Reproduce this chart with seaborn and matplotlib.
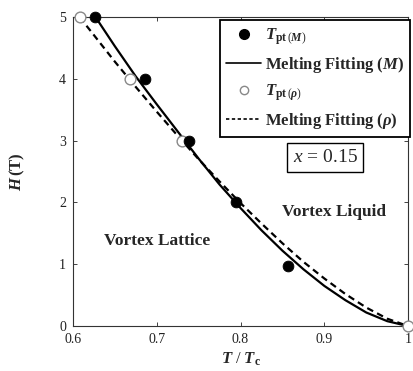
import matplotlib
matplotlib.use("Agg")
import matplotlib.pyplot as plt
import seaborn as sns
import pandas as pd
from matplotlib.lines import Line2D

# Data
t_M = [0.627, 0.686, 0.738, 0.795, 0.857]
h_M = [5.0, 4.0, 3.0, 2.0, 0.98]
t_rho = [0.608, 0.668, 0.730, 1.0]
h_rho = [5.0, 4.0, 3.0, 0.0]
fit_M_t = [0.627, 0.65, 0.675, 0.70, 0.725, 0.75, 0.775, 0.80, 0.825, 0.85, 0.875, 0.90, 0.925, 0.95, 0.975, 1.0]
fit_M_h = [5.0, 4.53, 4.04, 3.59, 3.15, 2.71, 2.29, 1.91, 1.55, 1.22, 0.92, 0.65, 0.42, 0.22, 0.08, 0.0]
fit_rho_t = [0.608, 0.625, 0.65, 0.675, 0.70, 0.725, 0.75, 0.775, 0.80, 0.825, 0.85, 0.875, 0.90, 0.925, 0.95, 0.975, 1.0]
fit_rho_h = [5.0, 4.71, 4.28, 3.87, 3.47, 3.08, 2.70, 2.34, 1.99, 1.66, 1.34, 1.04, 0.77, 0.52, 0.30, 0.12, 0.0]
x_ticks = [0.6, 0.7, 0.8, 0.9, 1.0]
x_tick_labels = ["0.6", "0.7", "0.8", "0.9", "1"]
y_ticks = [0, 1, 2, 3, 4, 5]

sns.set_style("ticks")
plt.rcParams["font.family"] = ["Liberation Serif", "DejaVu Serif"]
plt.rcParams["mathtext.fontset"] = "custom"
plt.rcParams["mathtext.rm"] = "Liberation Serif"
plt.rcParams["mathtext.it"] = "Liberation Serif:italic"
plt.rcParams["mathtext.bf"] = "Liberation Serif:bold"
plt.rcParams["mathtext.bfit"] = "Liberation Serif:bold:italic"

fig = plt.figure(figsize=(4.14, 3.71), dpi=100)
ax = fig.add_axes([0.176, 0.121, 0.810, 0.833])

dfM = pd.DataFrame({"t": fit_M_t, "h": fit_M_h})
dfR = pd.DataFrame({"t": fit_rho_t, "h": fit_rho_h})
sns.lineplot(data=dfM, x="t", y="h", ax=ax, color="black", lw=1.6, sort=False)
sns.lineplot(data=dfR, x="t", y="h", ax=ax, color="black", lw=1.6, sort=False,
             linestyle=(0, (3, 2)))
sns.scatterplot(x=t_rho, y=h_rho, ax=ax, s=60, facecolor="white",
                edgecolor="#888888", linewidth=1.0, clip_on=False, zorder=5)
sns.scatterplot(x=t_M, y=h_M, ax=ax, s=60, color="black", edgecolor="black",
                clip_on=False, zorder=6)

ax.set_xlim(0.6, 1.0)
ax.set_ylim(0, 5)
ax.set_xticks(x_ticks)
ax.set_xticklabels(x_tick_labels)
ax.set_yticks(y_ticks)
ax.tick_params(direction="in", length=3, width=0.6, labelsize=10,
               top=True, right=True, colors="#222222", pad=5)
for s in ax.spines.values():
    s.set_linewidth(0.8)
    s.set_color("#333333")

ax.set_xlabel(r"$\mathbfit{T}\ /\ \mathbfit{T}_{\mathbf{c}}$", fontsize=12, labelpad=3)
ax.set_ylabel(r"$\mathbfit{H}\,\mathbf{(T)}$", fontsize=12, labelpad=23)

ax.text(0.700, 1.38, "Vortex Lattice", fontsize=12.5, fontweight="bold",
        ha="center", va="center")
ax.text(0.912, 1.84, "Vortex Liquid", fontsize=12.5, fontweight="bold",
        ha="center", va="center")
ax.text(0.901, 2.73, r"$x$ = 0.15", fontsize=14, ha="center", va="center",
        bbox=dict(boxstyle="square,pad=0.3", facecolor="white",
                  edgecolor="black", linewidth=1.0))

handles = [
    Line2D([], [], marker="o", color="black", ls="none", markersize=7),
    Line2D([], [], color="black", lw=1.2),
    Line2D([], [], marker="o", markerfacecolor="white", markeredgecolor="#888888",
           ls="none", markersize=6),
    Line2D([], [], color="black", lw=1.2, linestyle=(0, (2, 1.5))),
]
labels = [
    r"$\mathbfit{T}_{\mathbf{pt}\,(\mathbfit{M})}$",
    r"Melting Fitting ($\mathbfit{M}$)",
    r"$\mathbfit{T}_{\mathbf{pt}\,(\mathbfit{\rho})}$",
    r"Melting Fitting ($\mathbfit{\rho}$)",
]
leg = ax.legend(handles, labels, loc="upper right", bbox_to_anchor=(1.006, 0.99),
                frameon=True, fancybox=False, shadow=False, framealpha=1,
                edgecolor="black",
                prop={"weight": "bold", "size": 12}, handlelength=2.1,
                handletextpad=0.2, labelspacing=0.45, borderpad=0.4,
                borderaxespad=0.0)
leg.get_frame().set_linewidth(1.3)

fig.savefig("out.png", dpi=100)
